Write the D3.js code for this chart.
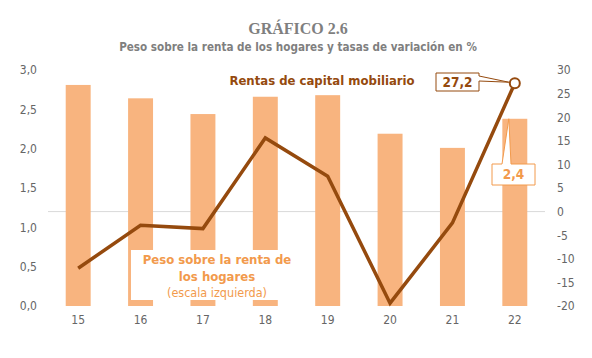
<!DOCTYPE html>
<html><head><meta charset="utf-8">
<script src="https://cdn.jsdelivr.net/npm/d3@7"></script>
<style>
html,body{margin:0;padding:0;background:#fff;}
svg{display:block;}
</style></head>
<body>
<svg id="chart" width="592" height="358"></svg>
<script>
const years = ["15","16","17","18","19","20","21","22"];
const pesoValues = [2.81, 2.64, 2.44, 2.66, 2.68, 2.19, 2.01, 2.38];
const tasaValues = [-12.0, -2.9, -3.6, 15.6, 7.5, -19.4, -2.4, 27.2];
const leftTicks = [0, 0.5, 1, 1.5, 2, 2.5, 3];
const rightTicks = [-20, -15, -10, -5, 0, 5, 10, 15, 20, 25, 30];
const titleText = "GRÁFICO 2.6";
const subtitleText = "Peso sobre la renta de los hogares y tasas de variación en %";
const lineLabel = "Rentas de capital mobiliario";
const barLabel = ["Peso sobre la renta de", "los hogares", "(escala izquierda)"];
const lastLineLabel = "27,2";
const lastBarLabel = "2,4";

const barColor = "#F8B47F", lineColor = "#954A0E", grey = "#7F7F7F", axisText = "#666666", orangeText = "#F29A4C";
const sans = "Tahoma, 'DejaVu Sans Condensed', 'DejaVu Sans', sans-serif";

const svg = d3.select("#chart");
const x = d3.scaleBand().domain(years).range([47, 546]).paddingInner(0.6).paddingOuter(0.3);
const yL = d3.scaleLinear().domain([0, 3]).range([306, 70]);
const yR = d3.scaleLinear().domain([-20, 30]).range([306, 70]);
const fmt = d3.format(".1f");
const comma = v => fmt(v).replace(".", ",");

// zero line of right axis
svg.append("line").attr("x1", 48).attr("x2", 545).attr("y1", yR(0)).attr("y2", yR(0))
  .attr("stroke", "#D9D9D9").attr("stroke-width", 1);

// bars
svg.selectAll("rect.bar").data(years).join("rect").attr("class", "bar")
  .attr("x", d => x(d)).attr("width", x.bandwidth())
  .attr("y", (d, i) => yL(pesoValues[i])).attr("height", (d, i) => yL(0) - yL(pesoValues[i]))
  .attr("fill", barColor);

// axes
const axL = d3.axisLeft(yL).tickValues(leftTicks).tickFormat(comma).tickSize(0).tickPadding(0);
const gL = svg.append("g").attr("transform", "translate(37,0)").call(axL);
const axR = d3.axisRight(yR).tickValues(rightTicks).tickFormat(d => d < 0 ? "-" + Math.abs(d) : d).tickSize(0).tickPadding(0);
const gR = svg.append("g").attr("transform", "translate(557,0)").call(axR);
const cx = d => x(d) + x.bandwidth() / 2;
const axB = d3.axisBottom(x).tickSize(0).tickPadding(0);
const gB = svg.append("g").attr("transform", "translate(0,315)").call(axB);
[gL, gR, gB].forEach(g => {
  g.select(".domain").remove();
  g.selectAll("text").attr("fill", axisText).style("font-family", sans).style("font-size", "12px");
});

// legend white box for bars
svg.append("rect").attr("x", 131).attr("y", 250).attr("width", 170).attr("height", 50).attr("fill", "#fff");

// line
const pts = years.map((d, i) => [cx(d), yR(tasaValues[i])]);
svg.append("path").attr("d", d3.line()(pts)).attr("fill", "none")
  .attr("stroke", lineColor).attr("stroke-width", 3.5).attr("stroke-linejoin", "miter");
const last = pts[pts.length - 1];
svg.append("circle").attr("cx", last[0]).attr("cy", last[1]).attr("r", 5)
  .attr("fill", "#fff").attr("stroke", lineColor).attr("stroke-width", 2);

// titles
svg.append("text").attr("x", 298).attr("y", 34).attr("text-anchor", "middle")
  .attr("fill", grey).style("font-family", "'Liberation Serif', 'DejaVu Serif', serif")
  .style("font-weight", "bold").style("font-size", "16px").text(titleText);
svg.append("text").attr("x", 298).attr("y", 51).attr("text-anchor", "middle")
  .attr("fill", grey).style("font-family", sans).style("font-weight", "bold")
  .style("font-size", "11.6px").text(subtitleText);

// line label
svg.append("text").attr("x", 322).attr("y", 85).attr("text-anchor", "middle")
  .attr("fill", lineColor).style("font-family", sans).style("font-weight", "bold")
  .style("font-size", "13px").text(lineLabel);

// bar legend text
barLabel.forEach((t, i) => {
  svg.append("text").attr("x", 217).attr("y", 264 + i * 16.5).attr("text-anchor", "middle")
    .attr("fill", orangeText).style("font-family", sans)
    .style("font-weight", i < 2 ? "bold" : "normal").style("font-size", i < 2 ? "13px" : "12.5px").text(t);
});

// callout 27,2
const lbx = 436, lby = 73, lbw = 43, lbh = 18;
svg.append("path").attr("d", `M${lbx},${lby}H${lbx + lbw}V${lby + 3}L${last[0] - 6},${last[1] - 1}L${lbx + lbw},${lby + 8}V${lby + lbh}H${lbx}Z`)
  .attr("fill", "#fff").attr("stroke", lineColor).attr("stroke-width", 1);
svg.append("text").attr("x", lbx + lbw / 2).attr("y", lby + 14).attr("text-anchor", "middle")
  .attr("fill", lineColor).style("font-family", sans).style("font-weight", "bold").style("font-size", "13.5px")
  .text(lastLineLabel);

// callout 2,4
const bx = cx(years[7]), by = yL(pesoValues[7]);
const cbx = 492, cby = 164, cbw = 43, cbh = 21;
svg.append("path").attr("d", `M${cbx},${cby}H${cbx + 10}L${bx - 6},${by}L${cbx + 19},${cby}H${cbx + cbw}V${cby + cbh}H${cbx}Z`)
  .attr("fill", "#fff").attr("stroke", orangeText).attr("stroke-width", 1);
svg.append("text").attr("x", cbx + cbw / 2).attr("y", cby + 15).attr("text-anchor", "middle")
  .attr("fill", orangeText).style("font-family", sans).style("font-weight", "bold").style("font-size", "13.5px")
  .text(lastBarLabel);
</script>
</body></html>
